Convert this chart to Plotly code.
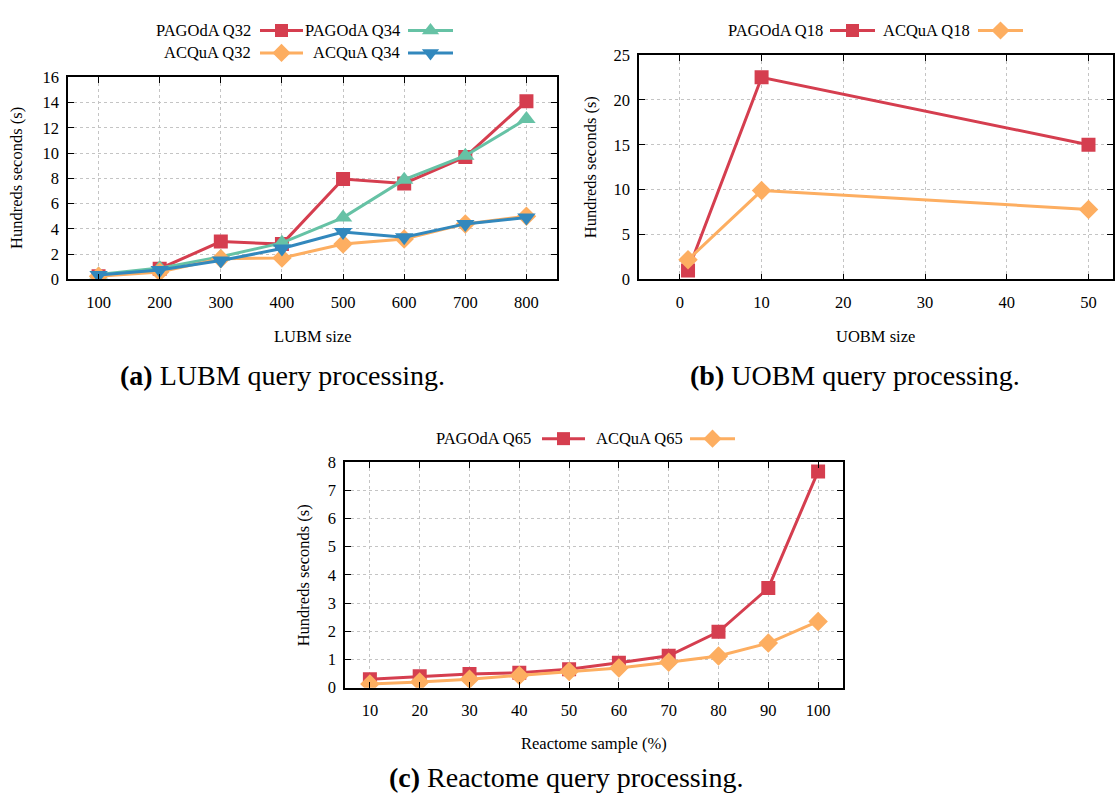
import plotly.graph_objects as go

W, H = 1118, 807
FONT = "Liberation Serif"
RED, ORANGE, GREEN, BLUE = "#d53e4f", "#fdae61", "#66c2a5", "#3288bd"

# ---- data ----
lubm_sizes = [100, 200, 300, 400, 500, 600, 700, 800]
pagoda_q32 = [0.25, 0.85, 3.0, 2.8, 7.95, 7.6, 9.7, 14.1]
pagoda_q34 = [0.4, 0.9, 1.8, 2.9, 4.9, 7.9, 9.8, 12.7]
acqua_q32 = [0.25, 0.6, 1.65, 1.7, 2.8, 3.2, 4.4, 5.0]
acqua_q34 = [0.35, 0.75, 1.5, 2.45, 3.75, 3.35, 4.4, 4.9]

uobm_sizes = [1, 10, 50]
pagoda_q18 = [1.0, 22.5, 15.0]
acqua_q18 = [2.2, 9.9, 7.8]

reactome_samples = [10, 20, 30, 40, 50, 60, 70, 80, 90, 100]
pagoda_q65 = [0.3, 0.4, 0.48, 0.53, 0.65, 0.88, 1.13, 1.98, 3.53, 7.67]
acqua_q65 = [0.13, 0.2, 0.3, 0.43, 0.57, 0.7, 0.9, 1.12, 1.58, 2.35]

lubm_ticks = [100, 200, 300, 400, 500, 600, 700, 800]
uobm_ticks = [0, 10, 20, 30, 40, 50]
reactome_ticks = [10, 20, 30, 40, 50, 60, 70, 80, 90, 100]

STYLE = {
    "PAGOdA Q32": (RED, "square", 14),
    "PAGOdA Q34": (GREEN, "triangle-up", 16),
    "ACQuA Q32": (ORANGE, "diamond", 15),
    "ACQuA Q34": (BLUE, "triangle-down", 16),
    "PAGOdA Q18": (RED, "square", 14),
    "ACQuA Q18": (ORANGE, "diamond", 15),
    "PAGOdA Q65": (RED, "square", 14),
    "ACQuA Q65": (ORANGE, "diamond", 15),
}


def px(x):
    return x / W


def py(y):
    return 1 - y / H


fig = go.Figure()


def add_series(name, xs, ys, ax):
    c, sym, sz = STYLE[name]
    fig.add_trace(go.Scatter(
        x=xs, y=ys, mode="lines+markers", name=name,
        line=dict(color=c, width=3),
        marker=dict(symbol=sym, size=sz, color=c, line=dict(width=0)),
        xaxis="x" + ax, yaxis="y" + ax, showlegend=False, hoverinfo="skip"))


add_series("PAGOdA Q32", lubm_sizes, pagoda_q32, "")
add_series("PAGOdA Q34", lubm_sizes, pagoda_q34, "")
add_series("ACQuA Q32", lubm_sizes, acqua_q32, "")
add_series("ACQuA Q34", lubm_sizes, acqua_q34, "")
add_series("PAGOdA Q18", uobm_sizes, pagoda_q18, "2")
add_series("ACQuA Q18", uobm_sizes, acqua_q18, "2")
add_series("PAGOdA Q65", reactome_samples, pagoda_q65, "3")
add_series("ACQuA Q65", reactome_samples, acqua_q65, "3")

# ---- legend keys (gnuplot style: label then sample) drawn on an overlay pixel axis ----
legend_items = [
    # name, text right edge, sample x0, x1, y
    ("PAGOdA Q32", 250, 260, 303, 22),
    ("PAGOdA Q34", 399, 408, 453, 22),
    ("ACQuA Q32", 250, 260, 303, 45),
    ("ACQuA Q34", 399, 408, 453, 45),
    ("PAGOdA Q18", 822, 830, 875, 22),
    ("ACQuA Q18", 969, 978, 1023, 22),
    ("PAGOdA Q65", 530, 542, 585, 440),
    ("ACQuA Q65", 682, 690, 735, 440),
]
annotations = []
tick_font = dict(family=FONT, size=16.5, color="black")
for name, tr, x0, x1, yy in legend_items:
    c, sym, sz = STYLE[name]
    fig.add_trace(go.Scatter(x=[x0, x1], y=[yy, yy], mode="lines",
                             line=dict(color=c, width=3), xaxis="x4", yaxis="y4",
                             showlegend=False, hoverinfo="skip"))
    fig.add_trace(go.Scatter(x=[(x0 + x1) / 2], y=[yy], mode="markers",
                             marker=dict(symbol=sym, size=sz - 1, color=c, line=dict(width=0)),
                             xaxis="x4", yaxis="y4", showlegend=False, hoverinfo="skip"))
    annotations.append(dict(text=name, x=px(tr + 3), y=py(yy), xref="paper", yref="paper",
                            xanchor="right", yanchor="middle", showarrow=False, font=tick_font))

# ---- axis titles & captions ----
title_font = dict(family=FONT, size=16.5, color="black")
for txt, x, y, ang in [
    ("Hundreds seconds (s)", 17, 173, -90),
    ("LUBM size", 312, 335, 0),
    ("Hundreds seconds (s)", 590, 162, -90),
    ("UOBM size", 875, 335, 0),
    ("Hundreds seconds (s)", 303, 580, -90),
    ("Reactome sample (%)", 594, 752, 0),
]:
    annotations.append(dict(text=txt, x=px(x), y=py(y), xref="paper", yref="paper",
                            xanchor="center", yanchor="middle", textangle=ang,
                            showarrow=False, font=title_font))

cap_font = dict(family=FONT, size=28, color="black")
for txt, x, y in [
    ("<b>(a)</b> LUBM query processing.", 282, 375),
    ("<b>(b)</b> UOBM query processing.", 855, 375),
    ("<b>(c)</b> Reactome query processing.", 566, 787),
]:
    annotations.append(dict(text=txt, x=px(x), y=py(y), xref="paper", yref="paper",
                            xanchor="center", yanchor="middle", showarrow=False, font=cap_font))


def xaxis(dom, rng, ticks, anchor):
    return dict(domain=[px(dom[0]), px(dom[1])], range=rng, anchor=anchor,
                tickvals=ticks, ticks="inside", ticklen=6, tickcolor="black",
                showline=True, linecolor="black", linewidth=1.5, mirror="ticks",
                showgrid=True, gridcolor="#c4c4c4", griddash="dot", gridwidth=1,
                zeroline=False, tickfont=tick_font, ticklabelstandoff=7)


def yaxis(dom, rng, dtick, anchor):
    return dict(domain=[py(dom[1]), py(dom[0])], range=rng, anchor=anchor,
                dtick=dtick, tick0=0, ticks="inside", ticklen=6, tickcolor="black",
                showline=True, linecolor="black", linewidth=1.5, mirror="ticks",
                showgrid=True, gridcolor="#c4c4c4", griddash="dot", gridwidth=1,
                zeroline=False, tickfont=tick_font, ticklabelstandoff=4)


fig.update_layout(
    width=W, height=H, margin=dict(l=0, r=0, t=0, b=0),
    paper_bgcolor="white", plot_bgcolor="rgba(0,0,0,0)",
    xaxis=xaxis((68, 557), [50, 850], lubm_ticks, "y"),
    yaxis=yaxis((70, 277), [0, 16], 2, "x"),
    xaxis2=xaxis((639, 1113), [-5, 53], uobm_ticks, "y2"),
    yaxis2=yaxis((47, 277), [0, 25], 5, "x2"),
    xaxis3=xaxis((345, 843), [5, 105], reactome_ticks, "y3"),
    yaxis3=yaxis((464, 695), [0, 8], 1, "x3"),
    xaxis4=dict(domain=[0, 1], range=[0, W], visible=False, anchor="y4", fixedrange=True),
    yaxis4=dict(domain=[0, 1], range=[H, 0], visible=False, anchor="x4", fixedrange=True),
    annotations=annotations,
    showlegend=False,
)

fig.write_html("out.html", config={"displayModeBar": False},
               post_script="document.body.style.margin='0';document.body.style.overflow='hidden';")
